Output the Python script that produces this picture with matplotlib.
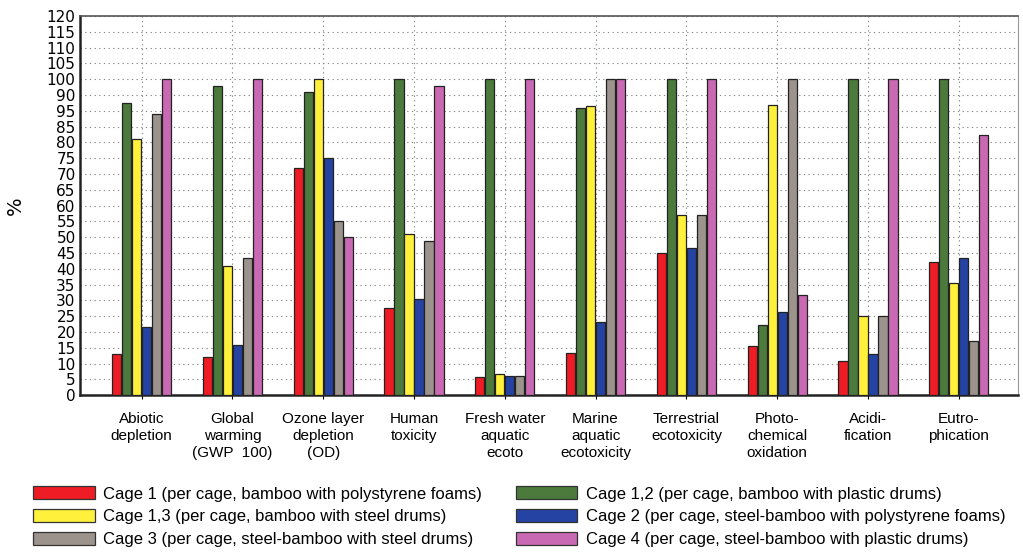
import numpy as np
import matplotlib
matplotlib.use("Agg")
import matplotlib.pyplot as plt
from matplotlib.patches import Patch

plt.rcParams['font.family'] = ['Liberation Sans', 'DejaVu Sans']

## data
categories = ["Abiotic\ndepletion", "Global\nwarming\n(GWP  100)", "Ozone layer\ndepletion\n(OD)",
              "Human\ntoxicity", "Fresh water\naquatic\necoto", "Marine\naquatic\necotoxicity",
              "Terrestrial\necotoxicity", "Photo-\nchemical\noxidation", "Acidi-\nfication", "Eutro-\nphication"]

cage1  = [13.0, 12.0, 72.0, 27.5,   5.8, 13.4, 45.0, 15.6, 10.8, 42.3]
cage12 = [92.4, 98.0, 96.0, 100.0, 100.0, 91.0, 100.0, 22.2, 100.0, 100.0]
cage13 = [81.0, 40.8, 100.0, 51.0,  6.7, 91.4, 57.0, 91.7, 25.0, 35.6]
cage2  = [21.5, 16.0, 75.0, 30.4,   6.0, 23.3, 46.5, 26.3, 13.0, 43.5]
cage3  = [89.0, 43.3, 55.0, 48.8,   6.0, 100.0, 57.0, 100.0, 25.0, 17.2]
cage4  = [100.0, 100.0, 50.0, 98.0, 100.0, 100.0, 100.0, 31.7, 100.0, 82.5]

series = [cage1, cage12, cage13, cage2, cage3, cage4]
labels = ["Cage 1 (per cage, bamboo with polystyrene foams)",
          "Cage 1,2 (per cage, bamboo with plastic drums)",
          "Cage 1,3 (per cage, bamboo with steel drums)",
          "Cage 2 (per cage, steel-bamboo with polystyrene foams)",
          "Cage 3 (per cage, steel-bamboo with steel drums)",
          "Cage 4 (per cage, steel-bamboo with plastic drums)"]
colors = ["#ee1c24", "#4b7a3c", "#fff03c", "#2443a3", "#9b938c", "#c968b3"]

ytick_vals   = list(range(0, 125, 5))
ytick_labels = ["0", "5", "10", "15", "20", "25", "30", "35", "40", "45", "50", "55", "60",
                "65", "70", "75", "80", "85", "95", "90", "100", "105", "110", "115", "120"]

## figure
fig = plt.figure(figsize=(10.23, 5.52), dpi=100)
ax  = fig.add_axes([0.078, 0.284, 0.917, 0.687])

x  = np.arange(len(categories))
bw = 0.11
for i, (vals, col) in enumerate(zip(series, colors)):
    ax.bar(x + (i - 2.5) * bw, vals, width=bw * 0.92, color=col, edgecolor="#222222",
           linewidth=0.9, zorder=3)

ax.set_xlim(-0.68, 9.65)
ax.set_ylim(0, 120)
ax.set_yticks(ytick_vals)
ax.set_yticklabels(ytick_labels, fontsize=11, family=['DejaVu Sans'])
ax.set_xticks(x)
ax.set_xticklabels(categories, fontsize=11, linespacing=1.3)
ax.tick_params(axis='y', length=0, pad=3)
ax.tick_params(axis='x', length=3, direction='out', pad=9)

ax.grid(axis='both', linestyle=(0, (1.2, 3)), color="#8a8a8a", linewidth=0.8, zorder=0)
ax.set_ylabel("%", fontsize=14, labelpad=16, family=['DejaVu Sans'])

for s in ['left', 'bottom']:
    ax.spines[s].set_linewidth(1.8)
    ax.spines[s].set_color("#222222")
ax.spines['top'].set_linewidth(1.2)
ax.spines['top'].set_color("#555555")
ax.spines['right'].set_linewidth(0.8)
ax.spines['right'].set_color("#999999")

## legend: column 1 = cage1, cage13, cage3 ; column 2 = cage12, cage2, cage4
order = [0, 2, 4, 1, 3, 5]
handles = [Patch(facecolor=colors[k], edgecolor="#333333", linewidth=0.9, label=labels[k]) for k in order]
fig.legend(handles=handles, loc='lower left', bbox_to_anchor=(0.018, -0.018), ncol=2,
           frameon=False, fontsize=12, handlelength=3.7, handleheight=0.8,
           handletextpad=0.5, columnspacing=2.0, labelspacing=0.45)

plt.savefig("out.png", dpi=100)
